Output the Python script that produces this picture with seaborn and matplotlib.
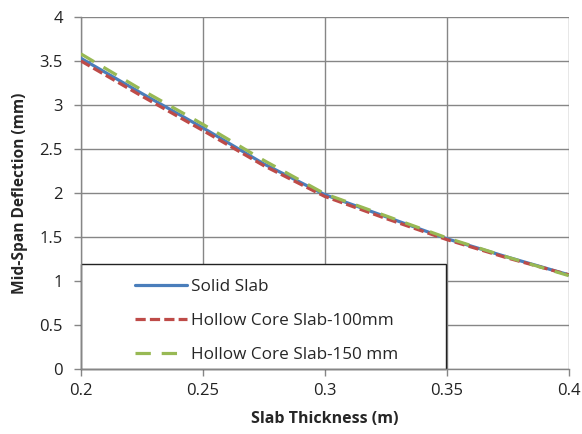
import pandas as pd
import matplotlib
matplotlib.use("Agg")
import matplotlib.pyplot as plt
import seaborn as sns
from matplotlib.patches import Rectangle

# values
thickness = [0.2, 0.225, 0.25, 0.275, 0.3, 0.325, 0.35, 0.375, 0.4]
solid = [3.53, 3.13, 2.74, 2.33, 1.98, 1.73, 1.48, 1.27, 1.07]
hollow_100 = [3.50, 3.10, 2.71, 2.31, 1.96, 1.71, 1.47, 1.26, 1.07]
hollow_150 = [3.58, 3.17, 2.78, 2.37, 1.99, 1.74, 1.49, 1.27, 1.06]

names = ["Solid Slab", "Hollow Core Slab-100mm", "Hollow Core Slab-150 mm"]
colors = ["#4a7ebb", "#be4b48", "#98b954"]
dashes = ["", (3.2, 1.3), (4.8, 3.4)]

df = pd.concat([
    pd.DataFrame({"x": thickness, "y": vals, "series": name})
    for name, vals in zip(names, [solid, hollow_100, hollow_150])
])

sns.set_style("white")
plt.rcParams["font.family"] = ["Open Sans", "DejaVu Sans"]

fig = plt.figure(figsize=(5.82, 4.34), dpi=100)
ax = fig.add_axes([0.139, 0.150, 0.838, 0.811])

sns.lineplot(data=df, x="x", y="y", hue="series", style="series",
             palette=dict(zip(names, colors)), dashes=dict(zip(names, dashes)),
             linewidth=2.3, ax=ax, zorder=3, legend=True)

ax.set_xlim(0.2, 0.4)
ax.set_ylim(0, 4)
ax.set_xticks([0.2, 0.25, 0.3, 0.35, 0.4])
ax.set_xticklabels(["0.2", "0.25", "0.3", "0.35", "0.4"])
ax.set_yticks([0, 0.5, 1, 1.5, 2, 2.5, 3, 3.5, 4])
ax.set_yticklabels(["0", "0.5", "1", "1.5", "2", "2.5", "3", "3.5", "4"])
ax.tick_params(labelsize=12, length=5, width=1,
               direction="out", bottom=True, left=True)
ax.tick_params(axis="y", pad=8)
ax.tick_params(axis="x", pad=5)
ax.tick_params(axis="both", colors="#868686", labelcolor="#222222")

ax.grid(True, color="#868686", linewidth=1)
ax.set_axisbelow(True)
for side in ["top", "right"]:
    ax.spines[side].set_visible(False)
for side in ["left", "bottom"]:
    ax.spines[side].set_color("#868686")
    ax.spines[side].set_linewidth(1)

ax.set_xlabel("Slab Thickness (m)", fontsize=11.5, fontweight="bold", labelpad=9)
ax.set_ylabel("Mid-Span Deflection (mm)", fontsize=11.2, fontweight="bold", labelpad=8)

# legend box sitting on the x axis
ax.add_patch(Rectangle((0.0, 0.0), 0.749, 0.297, transform=ax.transAxes,
                       facecolor="white", edgecolor="#222222", linewidth=1,
                       zorder=2.5, clip_on=False))
ax.legend(loc="upper left", bbox_to_anchor=(0.08, 0.30), frameon=False,
          fontsize=12.3, handlelength=3.0, handletextpad=0.25, labelspacing=1.05,
          title=None)

fig.savefig("out.png", dpi=100)
